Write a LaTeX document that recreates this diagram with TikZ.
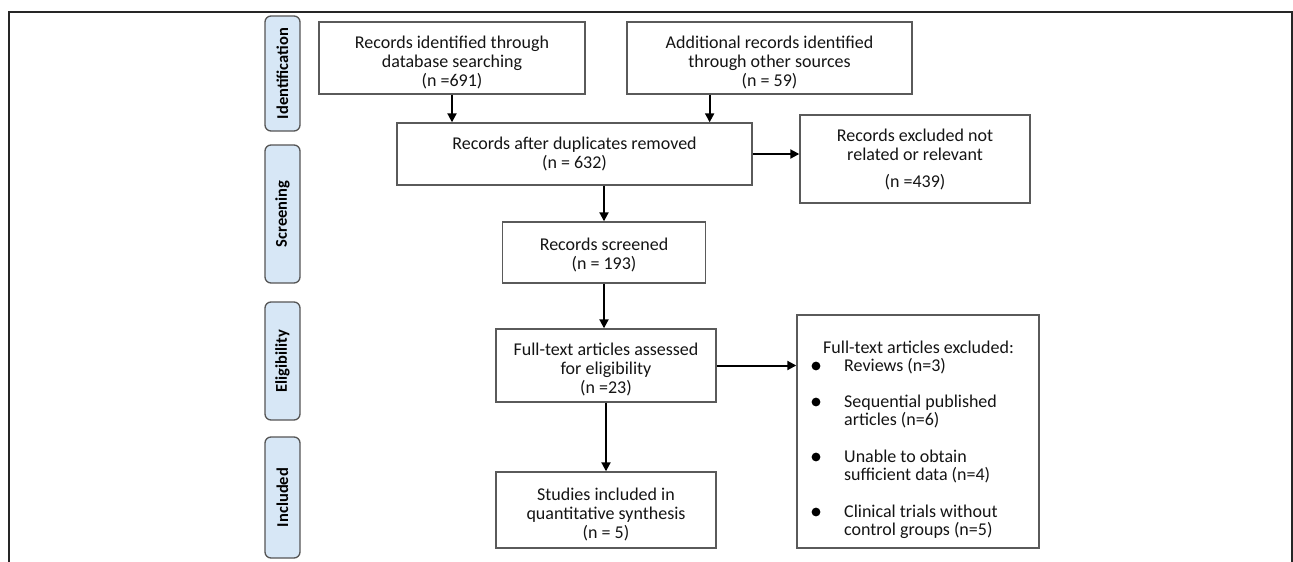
\documentclass[tikz,border=0pt]{standalone}
\usepackage{fontspec}
\setmainfont{Carlito}
\usetikzlibrary{arrows.meta,calc}
\definecolor{phasefill}{HTML}{D7E7F6}
\definecolor{phaseline}{HTML}{555555}
\definecolor{boxline}{HTML}{5A5A5A}
\definecolor{txt}{HTML}{141414}
\newcommand{\itemlines}[1]{\begin{tabular}[t]{@{}l@{}}#1\end{tabular}}
\newcommand{\lowerfirst}{\rule{0pt}{21pt}}
\tikzset{
  phase/.style={draw=phaseline, line width=1.3pt, fill=phasefill, rounded corners=6pt,
    rotate=90, minimum height=35pt, inner sep=0pt, font=\fontsize{16.5}{18}\selectfont\bfseries, text=black},
  flowbox/.style={draw=boxline, line width=1.4pt, align=center, inner sep=0pt,
    font=\fontsize{18}{19}\selectfont, text=txt},
  itemtxt/.style={anchor=base west, inner sep=0pt, font=\fontsize{18}{17.5}\selectfont, text=txt},
  arr/.style={line width=2pt, -{Triangle[length=9pt,width=9pt]}},
}
\begin{document}
\begin{tikzpicture}[x=1pt,y=-1pt]
\useasboundingbox (0,0) rectangle (1293,562);
% outer frame (open at bottom)
\draw[line width=1.4pt, black!85] (9,562) -- (9,12) -- (1292,12) -- (1292,562);

% phase labels
\node[phase, minimum width=115pt] (pid) at (282.5,73.5) {Identification};
\node[phase, minimum width=138pt] (psc) at (282.5,214) {Screening};
\node[phase, minimum width=118pt] (pel) at (282.5,361) {Eligibility};
\node[phase, minimum width=121pt] (pin) at (282.5,497.5) {Included};

% boxes
\node[flowbox, minimum width=266pt, minimum height=72pt] (b1) at (452,58)
  {\lowerfirst Records identified through\\database searching\\(n =691)};
\node[flowbox, minimum width=285pt, minimum height=72pt] (b2) at (769.5,58)
  {\lowerfirst Additional records identified\\through other sources\\(n = 59)};
\node[flowbox, minimum width=355pt, minimum height=62pt] (b3) at (574.5,154)
  {Records after duplicates removed\\(n = 632)};
\node[flowbox, minimum width=230pt, minimum height=88pt] (b4) at (915,159)
  {Records excluded not\\related or relevant\\[8pt](n =439)};
\node[flowbox, minimum width=203pt, minimum height=61pt] (b5) at (604,252.5)
  {\rule{0pt}{17pt}Records screened\\(n = 193)};
\node[flowbox, minimum width=220pt, minimum height=73pt] (b6) at (606,365.5)
  {\lowerfirst Full-text articles assessed\\for eligibility\\(n =23)};
\node[flowbox, minimum width=220pt, minimum height=76pt] (b7) at (606,510)
  {\lowerfirst Studies included in\\quantitative synthesis\\(n = 5)};
\node[flowbox, minimum width=242pt, minimum height=233pt] (b8) at (918,431.5) {};

% contents of exclusion box
\node[itemtxt] (h8) at (823,353) {Full-text articles excluded:};
\node[itemtxt] (i1) at (844,371) {Reviews (n=3)};
\node[itemtxt] (i2) at (844,407) {\itemlines{Sequential published\\articles (n=6)}};
\node[itemtxt] (i3) at (844,462) {\itemlines{Unable to obtain\\sufficient data (n=4)}};
\node[itemtxt] (i4) at (844,517) {\itemlines{Clinical trials without\\control groups (n=5)}};
\foreach \y in {366,402,457,512} \fill[black] (816,\y) circle (4.4pt);

% connectors
\draw[arr] (b1.south) -- (b1.south |- b3.north);
\coordinate (b2o) at ($(b2.south west)!0.291!(b2.south east)$);
\draw[arr] (b2o) -- (b2o |- b3.north);
\draw[arr] (b3.east) -- (b3.east -| b4.west);
\coordinate (b3o) at (b3.south -| b5.north);
\draw[arr] (b3o) -- (b5.north);
\draw[arr] (b5.south) -- (b5.south |- b6.north);
\draw[arr] (b6.east) -- (b6.east -| b8.west);
\draw[arr] (b6.south) -- (b6.south |- b7.north);
\end{tikzpicture}
\end{document}
